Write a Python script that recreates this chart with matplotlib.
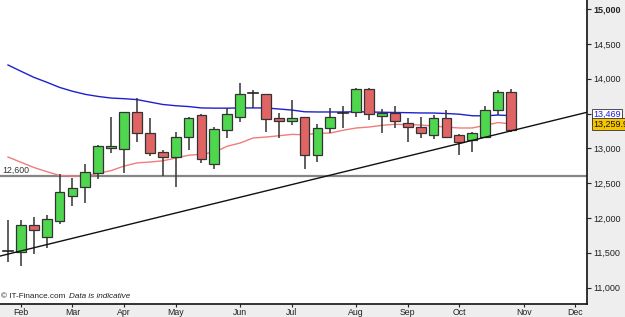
import matplotlib
matplotlib.use('Agg')
import matplotlib.pyplot as plt
import numpy as np
import pandas as pd
from matplotlib.patches import Rectangle
from matplotlib.transforms import blended_transform_factory

plt.rcParams['font.family'] = ['Liberation Sans', 'DejaVu Sans']

# ---------------- data ----------------
week_start = '2017-01-30'
opens  = [11525, 11510, 11898, 11725, 11956, 12315, 12444, 12645, 13004, 12990,
          13522, 13220, 12947, 12875, 13162, 13479, 12775, 13263, 13450, 13795,
          13780, 13435, 13392, 13450, 12904, 13292, 13493, 13522, 13852, 13464,
          13507, 13364, 13306, 13191, 13435, 13191, 13119, 13162, 13550, 13809]
highs  = [11970, 11970, 12013, 12042, 12631, 12574, 12775, 13047, 13450, 13522,
          13723, 13435, 12976, 13234, 13450, 13493, 13306, 13579, 13938, 13838,
          13780, 13507, 13694, 13450, 13349, 13579, 13608, 13866, 13866, 13565,
          13608, 13435, 13450, 13479, 13550, 13205, 13234, 13608, 13838, 13852]
lows   = [11366, 11309, 11481, 11567, 11912, 12171, 12214, 12559, 12932, 12645,
          13091, 12889, 12602, 12444, 12976, 12789, 12703, 13148, 13378, 13579,
          13234, 13148, 13335, 12703, 12803, 13220, 13292, 13450, 13407, 13220,
          13292, 13091, 13148, 13134, 13162, 12904, 12947, 13162, 13479, 13234]
closes = [11530, 11898, 11826, 11984, 12372, 12430, 12660, 13033, 13033, 13522,
          13220, 12932, 12875, 13162, 13435, 12846, 13277, 13493, 13780, 13795,
          13421, 13392, 13435, 12904, 13292, 13450, 13507, 13852, 13493, 13507,
          13392, 13306, 13220, 13435, 13162, 13091, 13220, 13550, 13809, 13259.9]
ma_long  = [14197, 14108, 14020, 13950, 13875, 13820, 13775, 13745, 13722, 13713,
            13700, 13665, 13630, 13612, 13600, 13580, 13577, 13577, 13580, 13580,
            13580, 13565, 13550, 13525, 13522, 13522, 13522, 13525, 13522, 13518,
            13515, 13512, 13508, 13507, 13500, 13490, 13468, 13466, 13478, 13469]
ma_short = [12875, 12800, 12725, 12665, 12610, 12602, 12602, 12640, 12680, 12745,
            12790, 12803, 12820, 12860, 12900, 12915, 12945, 13030, 13076, 13148,
            13162, 13180, 13200, 13195, 13215, 13220, 13260, 13292, 13306, 13330,
            13345, 13340, 13335, 13320, 13305, 13292, 13292, 13330, 13370, 13352]
support_level = 12600
trend_values = [11480, 13250]          # trend line at first and last candle
y_ticks = [11000, 11500, 12000, 12500, 13000, 13500, 14000, 14500, 15000]
last_price = 13259.9
ma_long_last = 13469
ma_short_last = 13352

# ---------------- figure ----------------
W, H = 625, 317
fig = plt.figure(figsize=(W / 100, H / 100), dpi=100, facecolor='#eeeeee')
ax = fig.add_axes([0, 13 / H, 587 / W, 304 / H])
ax.set_facecolor('white')

n = len(opens)
dates = pd.date_range(week_start, periods=n + 5, freq='7D')
idx = np.arange(n)

ax.set_xlim(-0.62, 44.9)
ax.set_ylim(10763, 15131)

# support line
ax.axhline(support_level, color='#858585', lw=1.6, zorder=1)
ax.text(2 / 587, support_level + 25, '12,600', fontsize=6.3, color='#333333',
        transform=blended_transform_factory(ax.transAxes, ax.transData),
        ha='left', va='bottom')

# moving averages
ax.plot(idx, ma_long, color='#1f1fcf', lw=1.0, zorder=2)
ax.plot(idx, ma_short, color='#f07c7c', lw=1.0, zorder=2)

# trend line
slope = (trend_values[1] - trend_values[0]) / (n - 1)
tx = np.array([-1.0, 46.0])
ax.plot(tx, trend_values[0] + slope * tx, color='#111111', lw=1.0, zorder=4)

# candles
bw = 0.76
for i in range(n):
    o, h, l, c = opens[i], highs[i], lows[i], closes[i]
    ax.plot([i, i], [l, h], color='#333333', lw=1.1, zorder=3, solid_capstyle='butt')
    if abs(c - o) < 25:
        ax.plot([i - bw / 2, i + bw / 2], [c, c], color='#222222', lw=1.2, zorder=3)
    else:
        col = '#4fd64f' if c > o else '#e06464'
        ax.add_patch(Rectangle((i - bw / 2, min(o, c)), bw, abs(c - o),
                               facecolor=col, edgecolor='#333333', lw=0.9, zorder=3))

# axes styling
for s in ['left', 'top']:
    ax.spines[s].set_visible(False)
for s in ['bottom', 'right']:
    ax.spines[s].set_color('#111111')
    ax.spines[s].set_linewidth(1.2)

ax.yaxis.tick_right()
ax.set_yticks(y_ticks)
ax.set_yticklabels([f'{v:,}' for v in y_ticks])
ax.tick_params(axis='y', length=3, width=0.8, colors='#222222', labelsize=6.5, pad=1.5)
for lab in ax.get_yticklabels():
    if lab.get_text() == '15,000':
        lab.set_fontweight('bold')

tick_pos, tick_lab = [], []
for i in range(1, len(dates)):
    if dates[i].month != dates[i - 1].month:
        tick_pos.append(i)
        tick_lab.append(dates[i].strftime('%b'))
ax.set_xticks(tick_pos)
ax.set_xticklabels(tick_lab)
ax.tick_params(axis='x', length=2.5, width=0.8, colors='#222222', labelsize=6.3, pad=0.3)

# right-side value labels
bt = blended_transform_factory(ax.transAxes, ax.transData)
ax.annotate(f'{ma_short_last:,}', xy=(1.0, ma_short_last), xycoords=bt,
            xytext=(4.5, 3.5), textcoords='offset points', fontsize=6.5, color='#f07c7c',
            va='center', ha='left', annotation_clip=False,
            bbox=dict(boxstyle='square,pad=0.1', fc='white', ec='#333333', lw=0.6))
ax.annotate(f'{ma_long_last:,}', xy=(1.0, ma_long_last), xycoords=bt,
            xytext=(4.5, 0.9), textcoords='offset points', fontsize=6.5, color='#2020dd',
            va='center', ha='left', annotation_clip=False,
            bbox=dict(boxstyle='square,pad=0.1', fc='white', ec='#333333', lw=0.6))
ax.annotate(f'{last_price:,.1f}', xy=(1.0, last_price), xycoords=bt,
            xytext=(4.5, 4.3), textcoords='offset points', fontsize=6.5, color='#111111',
            va='center', ha='left', annotation_clip=False,
            bbox=dict(boxstyle='square,pad=0.15', fc='#f7c400', ec='#333333', lw=0.6))

# watermark
ax.text(1 / 587, 7 / 304, '\u00a9 IT-Finance.com', transform=ax.transAxes,
        fontsize=5.9, color='#222222', va='center', ha='left')
ax.text(69 / 587, 7 / 304, 'Data is indicative', transform=ax.transAxes,
        fontsize=5.9, color='#222222', va='center', ha='left', style='italic')

fig.savefig('out.png', dpi=100, facecolor=fig.get_facecolor())
